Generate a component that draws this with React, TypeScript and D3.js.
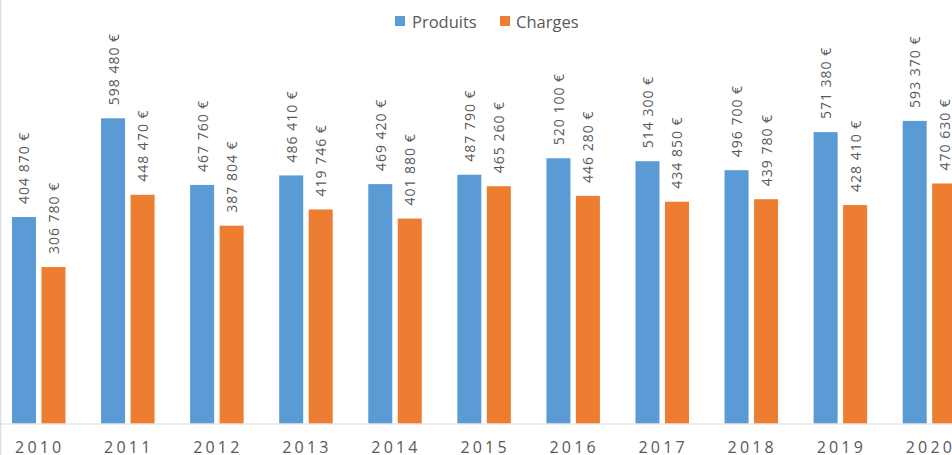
import React from "react";
import * as d3 from "d3";

const years = ["2010", "2011", "2012", "2013", "2014", "2015", "2016", "2017", "2018", "2019", "2020"];
const produits = [404870, 598480, 467760, 486410, 469420, 487790, 520100, 514300, 496700, 571380, 593370];
const charges = [306780, 448470, 387804, 419746, 401880, 465260, 446280, 434850, 439780, 428410, 470630];
const seriesNames = ["Produits", "Charges"];
const seriesColors = ["#5B9BD5", "#ED7D31"];

const W = 952;
const H = 455;
const baseY = 423.5;

const fmt = (v: number) => {
  const s = String(v).replace(/\B(?=(\d{3})+(?!\d))/g, " ");
  return s + " €";
};

export default function App() {
  const x = d3.scaleBand<string>().domain(years).range([-5.8, -5.8 + 11 * 89.07]).padding(0);
  const y = d3.scaleLinear().domain([0, 700000]).range([baseY, baseY - 357]);
  const inner = d3
    .scaleBand<string>()
    .domain(seriesNames)
    .range([-26.75, 26.75])
    .paddingInner(0.186)
    .paddingOuter(0);
  const data = [produits, charges];
  const font = "'Open Sans', 'Noto Sans', sans-serif";

  return (
    <svg
      width={W}
      height={H}
      style={{ position: "fixed", left: 0, top: 0, background: "#fff" }}
      fontFamily={font}
    >
      <rect x={0} y={0} width={W} height={H} fill="#fff" />
      <line x1={0.5} x2={0.5} y1={0} y2={H} stroke="#e8d9e8" strokeWidth={1.5} />
      {years.map((yr, i) => {
        const cx = (x(yr) as number) + x.bandwidth() / 2;
        return (
          <g key={yr}>
            {seriesNames.map((s, si) => {
              const v = data[si][i];
              const bx = cx + (inner(s) as number);
              const bw = inner.bandwidth();
              const top = y(v);
              const lx = bx + bw / 2 + 5.5;
              const ly = top - 13;
              return (
                <g key={s}>
                  <rect x={bx} y={top} width={bw} height={baseY - top} fill={seriesColors[si]} />
                  <text
                    transform={`translate(${lx},${ly}) rotate(-90)`}
                    fontSize={14}
                    letterSpacing={1}
                    fill="#595959"
                  >
                    {fmt(v)}
                  </text>
                </g>
              );
            })}
            <text
              x={cx + 1}
              y={453}
              textAnchor="middle"
              fontSize={16}
              letterSpacing={3.2}
              fill="#595959"
            >
              {yr}
            </text>
          </g>
        );
      })}
      <line x1={0} x2={W} y1={baseY + 0.5} y2={baseY + 0.5} stroke="#d9d9d9" strokeWidth={1} />
      <g>
        <rect x={395} y={16} width={10} height={10} fill={seriesColors[0]} />
        <text x={412} y={27.5} fontSize={16.5} fill="#595959">
          {seriesNames[0]}
        </text>
        <rect x={500} y={16} width={10} height={10} fill={seriesColors[1]} />
        <text x={516} y={27.5} fontSize={16.5} fill="#595959">
          {seriesNames[1]}
        </text>
      </g>
    </svg>
  );
}
